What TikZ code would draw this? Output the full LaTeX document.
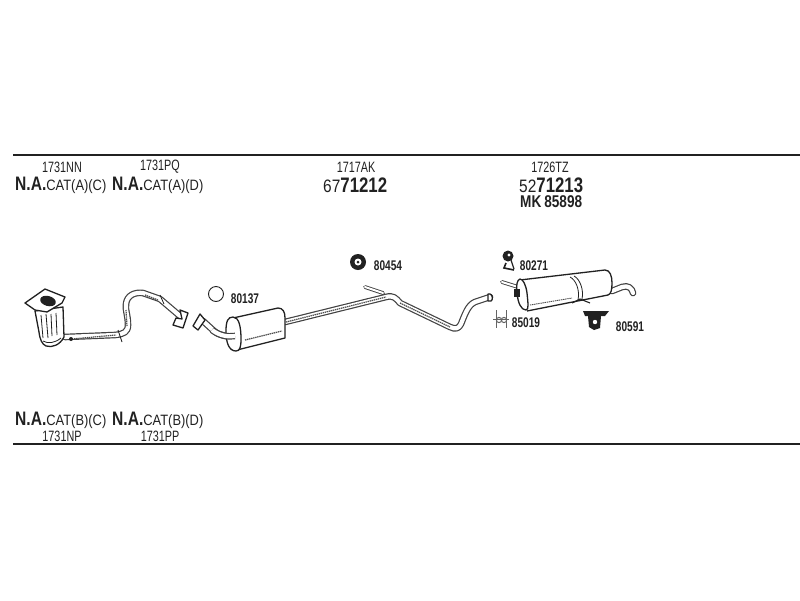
\documentclass[tikz,border=0pt]{standalone}
\usepackage{fontspec}
\setmainfont{Liberation Sans}
\newfontfamily\nar[FakeStretch=0.72]{Liberation Sans}
\newfontfamily\narw[FakeStretch=0.86]{Liberation Sans}
\newfontfamily\narb[FakeStretch=0.8,UprightFont=* Bold]{Liberation Sans}
\newfontfamily\narp[FakeStretch=0.72,UprightFont=* Bold]{Liberation Sans}
\usetikzlibrary{calc}
\definecolor{ink}{gray}{0.13}
\newcommand{\nacat}[1]{{\narb\fontsize{19.5}{19.5}\selectfont N.A.}{\narw\fontsize{15}{15}\selectfont CAT#1}}
\newcommand{\bignum}[2]{{\narw\fontsize{18}{18}\selectfont #1}{\narb\fontsize{21}{21}\selectfont #2}}
\tikzset{
  rulex/.style={line width=1.6pt,ink},
  lab/.style={inner sep=0pt,text=ink,font=\nar\fontsize{15}{15}\selectfont},
  partlab/.style={inner sep=0pt,text=ink,font=\narp\fontsize{14}{14}\selectfont},
  pipe/.style={draw=ink!85,line width=1.2pt,double=white,double distance=4.2pt,line join=round,line cap=round},
  pipethin/.style={draw=ink!85,line width=.9pt,double=white,double distance=2pt,line join=round,line cap=round},
  hatch/.style={gray!60!black,line width=1.2pt,dash pattern=on 1.4pt off .7pt},
  shell/.style={draw=ink,line width=1.3pt,fill=white,line join=round},
  thin/.style={ink,line width=.8pt},
}
\begin{document}
\begin{tikzpicture}[x=1pt,y=-1pt]
\useasboundingbox (0,0) rectangle (800,600);
\fill[white] (0,0) rectangle (800,600);
% rules
\coordinate (rta) at (13,155); \coordinate (rtb) at (800,155);
\coordinate (rba) at (13,444); \coordinate (rbb) at (800,444);
\draw[rulex] (rta) -- (rtb);
\draw[rulex] (rba) -- (rbb);
% top text
\node[lab] (t1) at (62,167) {1731NN};
\node[lab] (t2) at (160,167) {1731PQ};
\node[lab] (t3) at (356,167) {1717AK};
\node[lab] (t4) at (550,167) {1726TZ};
\node[lab,anchor=west] (n1) at (15,185) {\nacat{(A)(C)}};
\node[lab,anchor=west] (n2) at (112,185) {\nacat{(A)(D)}};
\node[lab,anchor=west] (n3) at (323,185) {\bignum{67}{71212}};
\node[lab,anchor=west] (n4) at (519,185) {\bignum{52}{71213}};
\node[partlab,anchor=west,font=\narb\fontsize{17}{17}\selectfont] (n5) at (520,202) {MK\hspace{3pt}85898};
% bottom text
\node[lab,anchor=west] (b1) at (15,420) {\nacat{(B)(C)}};
\node[lab,anchor=west] (b2) at (112,420) {\nacat{(B)(D)}};
\node[lab] (b3) at (62,436) {1731NP};
\node[lab] (b4) at (160,436) {1731PP};
% part labels
\node[partlab] (l1) at (245,299) {80137};
\node[partlab] (l2) at (388,266) {80454};
\node[partlab] (l3) at (534,266) {80271};
\node[partlab] (l4) at (526,323) {85019};
\node[partlab] (l5) at (630,327) {80591};
% front pipe
\draw[pipe] (65,337) -- (115,335) .. controls (124,334) and (128,332) .. (128,325) .. controls (128,315) and (125,310) .. (126,304) .. controls (127,295) and (135,292) .. (143,293) -- (160,299) -- (180,316);
\draw[hatch] (72,339) -- (116,335);
\draw[hatch] (145,295) -- (158,300);
\draw[hatch] (126,310) -- (127,326);
\draw[thin] (118,330) -- (122,342);
\draw[thin] (160,295) -- (164,304);
\fill[ink] (71,339) circle (2);
% front flange end
\draw[shell] (180,310) -- (188,313) -- (183,328) -- (173,325) -- (176,318) -- (182,319) -- cycle;
% catalyst body
\draw[shell] (35,311) -- (63,307) -- (64,337) .. controls (60,345) and (52,348) .. (46,346) .. controls (42,344) and (40,340) .. (39,332) -- cycle;
\draw[thin] (41,315) -- (43,338);
\draw[thin] (46,314) -- (48,338);
\draw[thin] (51,314) -- (52,336);
\draw[thin] (56,313) -- (57,335);
\draw[thin] (43,341) .. controls (48,344) and (55,343) .. (61,338);
% catalyst flange
\draw[shell] (25,303) -- (45,289) -- (65,297) -- (62,303) -- (47,312) -- (35,310) -- cycle;
\fill[ink,rotate around={-15:(48,301)}] (48,301) ellipse (8 and 5);
% middle flange + pipe
\draw[pipe] (203,321) -- (214,331) .. controls (220,336) and (228,337) .. (236,336);
\draw[shell] (200,314) -- (205,320) -- (198,330) -- (193,326) -- cycle;
% rear pipe from muffler
\draw[pipethin] (365,287) -- (383,293);
\draw[pipe] (285,322) -- (386,297) .. controls (393,295) and (396,298) .. (400,303) -- (450,327) .. controls (456,330) and (459,328) .. (461,324) .. controls (465,314) and (468,305) .. (475,302) -- (490,297);
\draw[hatch] (286,322) -- (386,297);
\draw[hatch] (400,303) -- (450,327);
\draw[shell] (490,294) .. controls (493,295) and (493,300) .. (491,301) -- (488,301) -- (488,294) -- cycle;
% middle muffler
\draw[shell] (233,318) -- (278,308) .. controls (283,308) and (285,312) .. (285,318) -- (285,338) -- (237,350);
\draw[shell] (233,317) .. controls (228,317) and (226,321) .. (226,331) .. controls (226,343) and (229,351) .. (236,351) .. controls (240,351) and (241,347) .. (241,339) .. controls (241,327) and (239,317) .. (233,317) -- cycle;
\draw[hatch] (245,340) -- (282,331);
\draw[pipe,line cap=butt] (212,330) .. controls (220,336) and (228,337) .. (235,336);
% rear stub
\draw[pipethin] (502,282) -- (518,287);
% tail pipe
\draw[pipe] (612,291) -- (622,287) .. controls (628,285) and (632,288) .. (633,293);
% rear muffler
\draw[shell] (520,280) -- (605,270) .. controls (610,270) and (612,276) .. (612,283) .. controls (612,290) and (611,294) .. (608,295) -- (527,311);
\draw[shell] (520,279) .. controls (517,280) and (516,285) .. (517,293) .. controls (518,303) and (521,310) .. (526,310) .. controls (529,310) and (528,303) .. (527,293) .. controls (526,285) and (523,279) .. (520,279) -- cycle;
\draw[hatch,line width=.9pt] (530,305) -- (572,298);
\draw[thin] (570,277) .. controls (576,280) and (580,290) .. (578,300);
\draw[thin] (574,276) .. controls (580,279) and (584,290) .. (582,299);
\draw[thin,line width=1.1pt] (572,303) -- (580,299) -- (590,303);
\fill[ink] (514,289) rectangle (520,297);
% ring 80137
\node[circle,draw=ink,line width=.9pt,fill=white,minimum size=15pt,inner sep=0pt] (r1) at (216,294) {};
% 80454
\node[circle,fill=ink,minimum size=16pt,inner sep=0pt] (r2) at (358,262) {};
\node[circle,fill=white,minimum size=7pt,inner sep=0pt] (r2b) at (358,262) {};
\node[circle,fill=ink,minimum size=3pt,inner sep=0pt] (r2c) at (358,262) {};
% 80271
\fill[ink] (508,256) circle (5.5);
\fill[white] (509,255) circle (1.6);
\draw[ink,line width=1.6pt] (506,263) -- (504,268) -- (514,270);
\draw[ink,line width=1.2pt] (511,260) -- (514,269);
% 85019
\draw[ink!70,line width=1pt] (496,310) -- (496,328);
\draw[ink!70,line width=1pt] (506,310) -- (506,328);
\draw[ink!70,line width=1pt] (493,319) -- (509,319);
\draw[ink!70,line width=1pt] (499,320) circle (2.6);
\draw[ink!70,line width=1pt] (504,320) circle (2.6);
% 80591
\fill[ink] (583,311) -- (609,311) -- (605,316) -- (601,316) -- (600,328) -- (594,330) -- (589,327) -- (588,316) -- (585,316) -- cycle;
\fill[white] (595,322) circle (2.2);
\end{tikzpicture}
\end{document}
